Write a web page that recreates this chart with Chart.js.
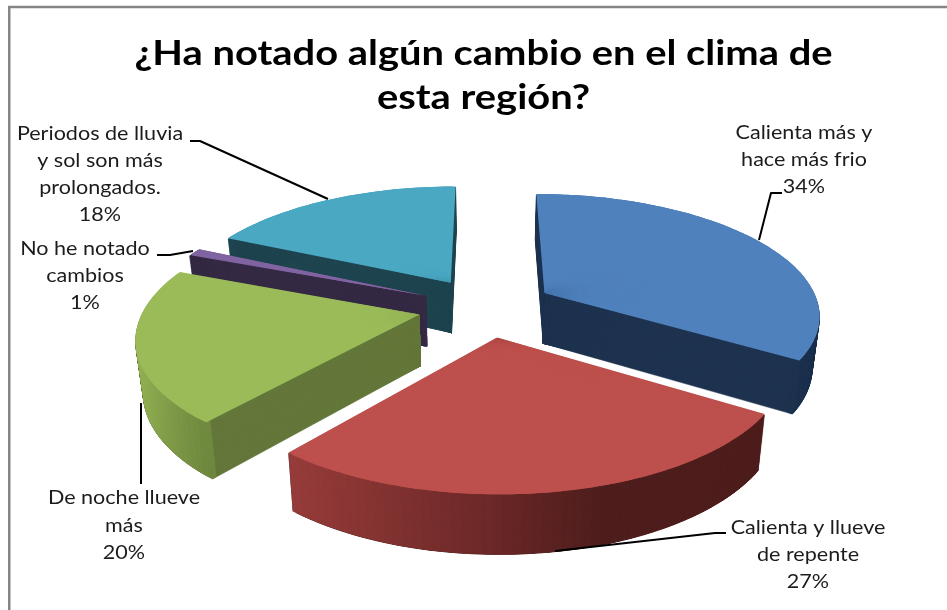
<!DOCTYPE html>
<html><head><meta charset="utf-8">
<style>html,body{margin:0;padding:0;background:#fff;overflow:hidden}canvas{display:block}</style>
<script src="https://cdn.jsdelivr.net/npm/chart.js@4"></script>
</head><body><canvas id="c" width="947" height="610"></canvas>
<script>
const categories = ["Calienta más y hace más frio","Calienta y llueve de repente","De noche llueve más","No he notado cambios","Periodos de lluvia y sol son más prolongados."];
const values = [34,27,20,1,18];
const titleLines = ["¿Ha notado algún cambio en el clima de","esta región?"];
const labelLines = [["Calienta más y","hace más frio"],["Calienta y llueve","de repente"],["De noche llueve","más"],["No he notado","cambios"],["Periodos de lluvia","y sol son más","prolongados."]];

const topColors = ["#4f81bd","#bd4f4c","#9bbb59","#8064a2","#4aa8c3"];
const radialColors = ["#1e334f","#4f1f1e","#64773a","#352a44","#1f4550"];
const wallStroke = [0.6,0.6,0.6,3,0.6];
const rimStops = [
  [[0,"#1e334f"]],
  [[295,"#963d3b"],[470,"#702b2a"],[600,"#4f1f1e"]],
  [[133,"#98b657"],[170,"#809b4a"],[215,"#6c843d"]],
  [[0,"#352a44"]],
  [[0,"#1f4550"]]
];
const drawOrder = [4,3,0,2,1];
const labelLayout = [
  {x:804,y:133,gap:27},{x:808,y:528,gap:27},{x:124,y:498,gap:27.5},{x:85,y:249,gap:27},{x:100,y:134,gap:27}
];
const leaders = [
  [[759,240],[771,193],[782,193]],
  [[555,551],[715,533],[726,533]],
  [[141,403],[141,484]],
  [[157,255],[170,255],[193,251]],
  [[190,141],[200,141],[328,199]]
];
const cam = {cx:486,cy:307,tilt:0.435,k:0.0006,R:275,explode:68,depth:51,shrink:0.022};
const titleStretch = 1.19, labelStretch = 1.105;

function project(wx,wy,z){
  const s = 1/(1-cam.k*wy), q = 1-cam.shrink*z/cam.depth;
  return [cam.cx+wx*s*q, cam.cy+cam.tilt*wy*s*q+z*s];
}
function hex(c){return [1,3,5].map(i=>parseInt(c.substr(i,2),16));}
function rimColor(stops,x){
  if(stops.length===1||x<=stops[0][0])return stops[0][1];
  for(let i=1;i<stops.length;i++){
    if(x<=stops[i][0]){
      const f=(x-stops[i-1][0])/(stops[i][0]-stops[i-1][0]),a=hex(stops[i-1][1]),b=hex(stops[i][1]);
      return "rgb("+a.map((v,j)=>Math.round(v+(b[j]-v)*f)).join(",")+")";
    }
  }
  return stops[stops.length-1][1];
}
function optsFor(c,bw){return {backgroundColor:c,borderColor:c,borderWidth:bw||0,offset:0,spacing:0,borderRadius:0,circular:true,borderAlign:"center",borderJoinStyle:"round",borderDash:[],borderDashOffset:0};}

function drawPiece(ctx,el,base,a0,a1,z,color,innerFrac,bw){
  const mid=(base.start+base.end)/2;
  const ex=cam.explode*Math.cos(mid), ey=cam.explode*Math.sin(mid);
  const r=base.r, x=base.x, y=base.y;
  const S=[[x,y],[x+r*Math.cos(a0),y+r*Math.sin(a0)],[x+r*Math.cos(a1),y+r*Math.sin(a1)]];
  const T=[project(ex,ey,z),project(ex+cam.R*Math.cos(a0),ey+cam.R*Math.sin(a0),z),project(ex+cam.R*Math.cos(a1),ey+cam.R*Math.sin(a1),z)];
  const u1=S[1][0]-S[0][0],v1=S[1][1]-S[0][1],u2=S[2][0]-S[0][0],v2=S[2][1]-S[0][1];
  const det=u1*v2-u2*v1;
  const p1=T[1][0]-T[0][0],q1=T[1][1]-T[0][1],p2=T[2][0]-T[0][0],q2=T[2][1]-T[0][1];
  const a=(p1*v2-p2*v1)/det,c=(p2*u1-p1*u2)/det,b=(q1*v2-q2*v1)/det,d=(q2*u1-q1*u2)/det;
  const e=T[0][0]-a*S[0][0]-c*S[0][1],f=T[0][1]-b*S[0][0]-d*S[0][1];
  ctx.save();
  ctx.setTransform(a,b,c,d,e,f);
  el.startAngle=a0;el.endAngle=a1;el.circumference=a1-a0;el.innerRadius=r*innerFrac;
  el.options=optsFor(color,bw);
  el.draw(ctx);
  ctx.restore();
}

const pie3d = {
  id:"pie3d",
  beforeDraw(chart){
    const box=chart.titleBlock;
    if(box&&!box._stretched){
      box._stretched=true;
      const orig=box.draw;
      box.draw=function(area){
        const ctx=this.ctx, cx=(this.left+this.right)/2;
        ctx.save();ctx.translate(cx,0);ctx.scale(titleStretch,1);ctx.translate(-cx,0);
        orig.call(this,area);
        ctx.restore();
      };
    }
  },
  beforeDatasetsDraw(chart){
    const ctx=chart.ctx, els=chart.getDatasetMeta(0).data;
    drawOrder.forEach(i=>{
      const el=els[i];
      const keep={s:el.startAngle,e:el.endAngle,c:el.circumference,ir:el.innerRadius,o:el.options};
      const base={start:el.startAngle,end:el.endAngle,r:el.outerRadius,x:el.x,y:el.y};
      const sweep=base.end-base.start;
      const n=Math.max(2,Math.ceil(sweep/0.03));
      const ov=0.015;
      const mid=(base.start+base.end)/2;
      const ex=cam.explode*Math.cos(mid), ey=cam.explode*Math.sin(mid);
      const span=j=>[Math.max(base.start,base.start+sweep*j/n-ov),Math.min(base.end,base.start+sweep*(j+1)/n+ov)];
      for(let z=cam.depth;z>=1;z--){
        for(let j=0;j<n;j++){
          const [a0,a1]=span(j);
          drawPiece(ctx,el,base,a0,a1,z,radialColors[i],0,wallStroke[i]);
        }
      }
      for(let z=cam.depth;z>=1;z-=0.5){
        for(let j=0;j<n;j++){
          const [a0,a1]=span(j);
          const am=(a0+a1)/2;
          const sx=project(ex+cam.R*Math.cos(am),ey+cam.R*Math.sin(am),z)[0];
          drawPiece(ctx,el,base,a0,a1,z,rimColor(rimStops[i],sx),0.98,0);
        }
      }
      for(let j=0;j<n;j++){
        const [a0,a1]=span(j);
        drawPiece(ctx,el,base,a0,a1,0,topColors[i],0,0);
      }
      el.startAngle=keep.s;el.endAngle=keep.e;el.circumference=keep.c;el.innerRadius=keep.ir;el.options=keep.o;
    });
    return false;
  },
  afterDraw(chart){
    const ctx=chart.ctx;
    ctx.save();
    ctx.strokeStyle="#868686";ctx.lineWidth=2.5;
    ctx.strokeRect(9.25,7,1000,1000);
    ctx.strokeStyle="#000";ctx.lineWidth=2;ctx.lineJoin="round";
    leaders.forEach(pts=>{
      ctx.beginPath();
      pts.forEach((p,k)=>k?ctx.lineTo(p[0],p[1]):ctx.moveTo(p[0],p[1]));
      ctx.stroke();
    });
    ctx.fillStyle="#1c1c1c";
    ctx.font='19.5px Lato';ctx.textAlign="center";ctx.textBaseline="middle";
    labelLines.forEach((lines,i)=>{
      const L=labelLayout[i];
      lines.concat(values[i]+"%").forEach((t,k)=>{
        ctx.save();
        ctx.translate(L.x,L.y+k*L.gap);ctx.scale(labelStretch,1);
        ctx.fillText(t,0,0);
        ctx.restore();
      });
    });
    ctx.restore();
  }
};

new Chart(document.getElementById("c"),{
  type:"pie",
  data:{labels:categories,datasets:[{data:values,backgroundColor:topColors,borderWidth:0}]},
  options:{
    responsive:false,animation:false,
    layout:{padding:{left:20,top:0,bottom:0,right:0}},
    plugins:{
      legend:{display:false},tooltip:{enabled:false},
      title:{display:true,text:titleLines,color:"#000",font:{family:"Lato",weight:"bold",size:33.5,lineHeight:1.313},padding:{top:32,bottom:10}}
    }
  },
  plugins:[pie3d]
});
</script></body></html>
